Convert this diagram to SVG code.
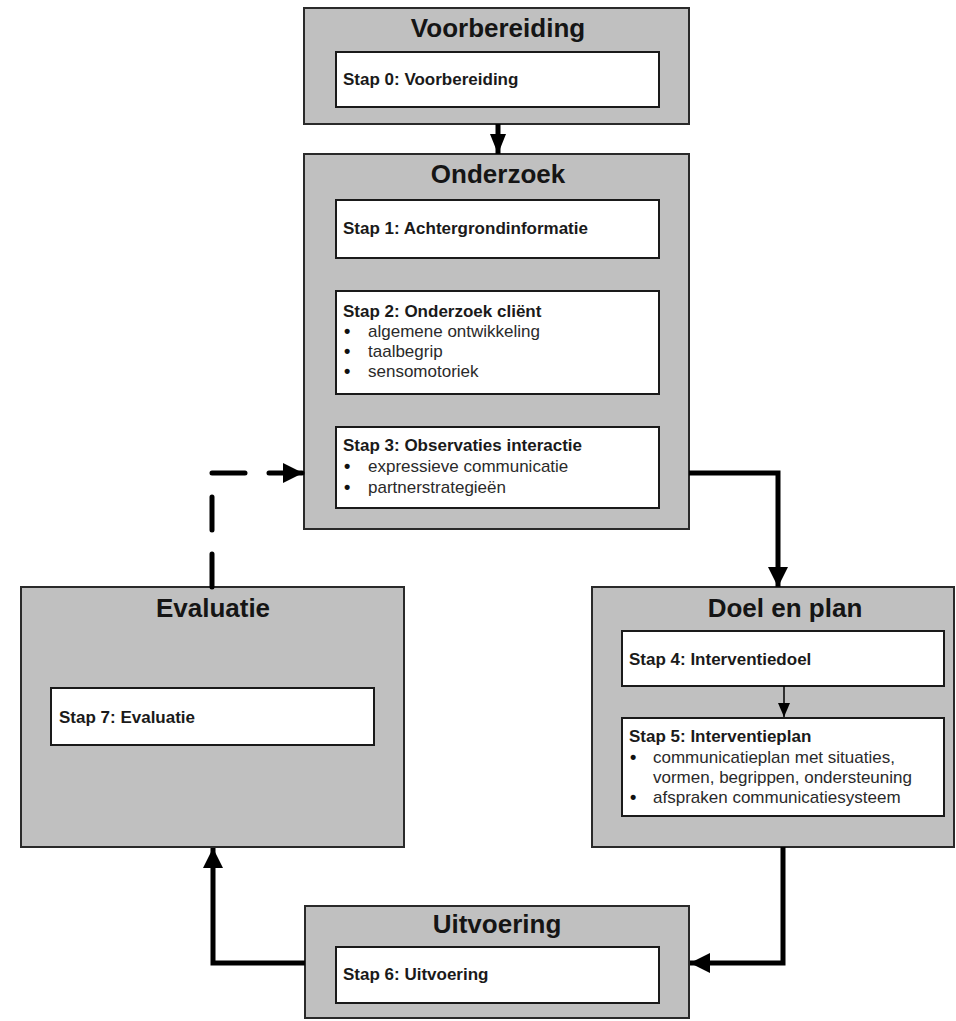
<svg xmlns="http://www.w3.org/2000/svg" width="956" height="1021" viewBox="0 0 956 1021">
  <style>
    .phase { fill: #c0c0c0; stroke: #2a2a2a; stroke-width: 2; }
    .step { fill: #ffffff; stroke: #1a1a1a; stroke-width: 2; }
    .title { font-family: "Liberation Sans", Arial, sans-serif; font-size: 26px; font-weight: bold; fill: #151515; text-anchor: middle; }
    .head { font-family: "Liberation Sans", Arial, sans-serif; font-size: 17px; font-weight: bold; fill: #1a1a1a; }
    .item { font-family: "Liberation Sans", Arial, sans-serif; font-size: 17px; fill: #2a2a2a; }
    .bul { font-family: "Liberation Sans", Arial, sans-serif; font-size: 18px; font-weight: bold; fill: #111; }
    .conn { fill: none; stroke: #000; stroke-width: 5; stroke-linejoin: miter; }
    .dash { fill: none; stroke: #000; stroke-width: 5; stroke-dasharray: 33 24; stroke-linecap: round; }
    .thin { fill: none; stroke: #000; stroke-width: 1.5; }
  </style>
  <defs>
    <marker id="ah" markerUnits="userSpaceOnUse" viewBox="0 0 20 20" refX="20" refY="10" markerWidth="20" markerHeight="20" orient="auto">
      <path d="M0,0 L20,10 L0,20 Z" fill="#000"/>
    </marker>
    <marker id="ahs" markerUnits="userSpaceOnUse" viewBox="0 0 20 16" refX="20" refY="8" markerWidth="20" markerHeight="16" orient="auto">
      <path d="M0,0 L20,8 L0,16 Z" fill="#000"/>
    </marker>
    <marker id="aht" markerUnits="userSpaceOnUse" viewBox="0 0 14 12" refX="14" refY="6" markerWidth="14" markerHeight="12" orient="auto">
      <path d="M0,0 L14,6 L0,12 Z" fill="#000"/>
    </marker>
  </defs>

  <g id="voorbereiding">
    <rect class="phase" x="304" y="8" width="385" height="116"/>
    <text class="title" x="498" y="37">Voorbereiding</text>
    <rect class="step" x="336" y="52" width="323" height="55"/>
    <text class="head" x="343" y="85">Stap 0: Voorbereiding</text>
  </g>

  <g id="onderzoek">
    <rect class="phase" x="304" y="154" width="385" height="375"/>
    <text class="title" x="498" y="183">Onderzoek</text>
    <rect class="step" x="336" y="200" width="323" height="58"/>
    <text class="head" x="343" y="234">Stap 1: Achtergrondinformatie</text>
    <rect class="step" x="336" y="291" width="323" height="103"/>
    <text class="head" x="343" y="317">Stap 2: Onderzoek cliënt</text>
    <text class="bul" x="344" y="337">•</text><text class="item" x="368" y="337">algemene ontwikkeling</text>
    <text class="bul" x="344" y="357">•</text><text class="item" x="368" y="357">taalbegrip</text>
    <text class="bul" x="344" y="377">•</text><text class="item" x="368" y="377">sensomotoriek</text>
    <rect class="step" x="336" y="427" width="323" height="81"/>
    <text class="head" x="343" y="451">Stap 3: Observaties interactie</text>
    <text class="bul" x="344" y="472">•</text><text class="item" x="368" y="472">expressieve communicatie</text>
    <text class="bul" x="344" y="493">•</text><text class="item" x="368" y="493">partnerstrategieën</text>
  </g>

  <g id="evaluatie">
    <rect class="phase" x="21" y="587" width="383" height="260"/>
    <text class="title" x="213" y="617">Evaluatie</text>
    <rect class="step" x="51" y="688" width="323" height="57"/>
    <text class="head" x="59" y="723">Stap 7: Evaluatie</text>
  </g>

  <g id="doel-en-plan">
    <rect class="phase" x="592" y="587" width="362" height="260"/>
    <text class="title" x="785" y="617">Doel en plan</text>
    <rect class="step" x="622" y="631" width="322" height="55"/>
    <text class="head" x="629" y="665">Stap 4: Interventiedoel</text>
    <rect class="step" x="622" y="718" width="322" height="98"/>
    <text class="head" x="629" y="742">Stap 5: Interventieplan</text>
    <text class="bul" x="630" y="763">•</text><text class="item" x="653" y="763">communicatieplan met situaties,</text>
    <text class="item" x="653" y="783">vormen, begrippen, ondersteuning</text>
    <text class="bul" x="630" y="803">•</text><text class="item" x="653" y="803">afspraken communicatiesysteem</text>
  </g>

  <g id="uitvoering">
    <rect class="phase" x="305" y="906" width="384" height="112"/>
    <text class="title" x="497" y="933">Uitvoering</text>
    <rect class="step" x="336" y="947" width="323" height="56"/>
    <text class="head" x="343" y="980">Stap 6: Uitvoering</text>
  </g>

  <g id="connectors">
    <path class="conn" d="M498,124 V154" marker-end="url(#ahs)"/>
    <path class="conn" d="M689,473 H778 V587" marker-end="url(#ah)"/>
    <path class="thin" d="M784,686 V717" marker-end="url(#aht)"/>
    <path class="conn" d="M783,847 V963 H690" marker-end="url(#ah)"/>
    <path class="conn" d="M305,963 H213 V848" marker-end="url(#ah)"/>
    <path class="dash" d="M212,587 V473 H303" marker-end="url(#ah)"/>
  </g>
</svg>
